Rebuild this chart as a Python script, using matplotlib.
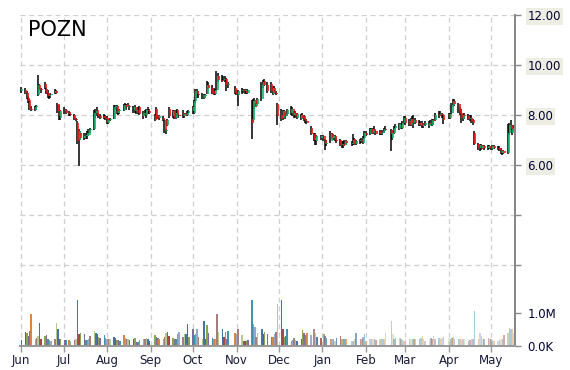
import matplotlib
matplotlib.use("Agg")
import matplotlib.pyplot as plt
import matplotlib.dates as mdates
import numpy as np
import pandas as pd

ticker = "POZN"
holidays = ["2012-07-04", "2012-09-03", "2012-10-29", "2012-10-30", "2012-11-22",
            "2012-12-25", "2013-01-01", "2013-01-21", "2013-02-18", "2013-03-29"]

# one line per trading week
opens = [
    8.95,
    9.0, 8.9, 8.7, 8.6, 8.25,
    8.2, 8.3, 8.8, 9.2, 9.05,
    9.25, 9.05, 8.9, 8.75, 8.8,
    8.9, 8.95, 8.45, 8.2, 7.9,
    8.15, 8.2, 8.1, 8.05,
    8.0, 7.85, 7.7, 7.0, 7.3,
    7.1, 7.15, 7.15, 7.2, 7.4,
    7.45, 8.1, 8.2, 8.0, 7.95,
    7.95, 7.9, 7.9, 7.7, 7.8,
    7.85, 8.3, 8.35, 8.1, 8.15,
    8.2, 8.4, 8.3, 8.4, 8.35,
    8.2, 8.3, 8.15, 8.2, 8.3,
    7.95, 8.1, 8.0, 8.2, 8.15,
    8.0, 8.25, 7.95, 7.9,
    7.9, 7.8, 7.35, 7.6, 8.25,
    7.95, 8.15, 7.9, 8.2, 8.0,
    8.1, 7.95, 8.05, 8.0, 8.1,
    8.15, 8.1, 8.55, 8.95, 8.85,
    8.8, 8.7, 8.75, 8.85, 9.2,
    9.1, 8.95, 8.85, 9.0, 9.55,
    9.4, 9.4, 9.45, 9.45, 9.2,
    9.1, 8.9, 8.8,
    8.95, 9.0, 8.95, 8.95, 8.9,
    7.85, 7.8, 8.6, 8.35, 8.45,
    8.65, 9.2, 9.35, 9.2,
    9.25, 8.85, 9.1, 8.9, 8.45,
    8.0, 7.9, 8.15, 7.95, 8.05,
    8.1, 8.25, 8.0, 8.1, 7.9,
    7.85, 8.0, 7.95, 7.8, 7.75,
    7.5, 7.25, 7.0, 6.95,
    7.1, 7.15, 7.0, 6.85,
    6.95, 7.25, 7.1, 7.15, 7.0,
    7.0, 6.8, 6.85, 6.8, 6.95,
    6.85, 6.9, 7.05, 6.85,
    6.95, 7.0, 6.9, 7.1, 7.3,
    7.25, 7.45, 7.3, 7.45, 7.35,
    7.35, 7.25, 7.3, 7.35, 7.45,
    7.4, 7.1, 7.3, 7.5,
    7.45, 7.6, 7.5, 7.7, 7.9,
    7.75, 7.6, 7.85, 7.7, 7.8,
    7.7, 7.6, 7.7, 7.55, 7.6,
    7.55, 7.7, 7.6, 7.8, 7.8,
    8.05, 8.0, 8.05, 8.0,
    8.05, 7.9, 8.1, 8.4, 8.55,
    8.45, 8.2, 8.1, 7.85, 8.0,
    7.95, 7.85, 7.9, 7.8, 7.3,
    6.85, 6.7, 6.8, 6.7, 6.75,
    6.7, 6.75, 6.7, 6.65, 6.75,
    6.7, 6.7, 6.6, 6.5, 6.55,
    6.5, 7.3, 7.6, 7.3, 7.45,
]
highs = [
    9.13,
    9.1, 8.95, 8.75, 8.65, 8.35,
    8.35, 8.4, 9.6, 9.25, 9.1,
    9.3, 9.1, 9.0, 8.85, 8.9,
    9.05, 9.0, 8.5, 8.4, 8.2,
    8.3, 8.25, 8.15, 8.1,
    8.05, 7.9, 7.75, 7.45, 7.35,
    7.3, 7.3, 7.35, 7.45, 7.5,
    8.2, 8.25, 8.3, 8.1, 8.05,
    8.05, 8.0, 7.95, 7.85, 7.9,
    8.4, 8.4, 8.4, 8.2, 8.25,
    8.45, 8.47, 8.45, 8.5, 8.4,
    8.35, 8.4, 8.25, 8.3, 8.35,
    8.15, 8.2, 8.25, 8.3, 8.25,
    8.05, 8.3, 8.0, 8.0,
    7.95, 7.85, 7.45, 7.85, 8.3,
    8.2, 8.2, 8.2, 8.25, 8.1,
    8.2, 8.1, 8.1, 8.15, 8.2,
    8.35, 8.6, 9.05, 9.05, 8.95,
    8.9, 8.85, 8.85, 9.35, 9.3,
    9.2, 9.1, 9.05, 9.75, 9.7,
    9.6, 9.55, 9.55, 9.5, 9.3,
    9.15, 9.0, 9.0,
    9.1, 9.05, 9.05, 9.0, 9.05,
    8.6, 8.65, 8.7, 8.5, 8.7,
    9.3, 9.4, 9.45, 9.3,
    9.3, 9.15, 9.15, 8.95, 8.5,
    8.25, 8.2, 8.2, 8.1, 8.25,
    8.35, 8.3, 8.15, 8.15, 8.1,
    8.05, 8.1, 8.0, 7.9, 7.85,
    7.55, 7.3, 7.3, 7.2,
    7.2, 7.2, 7.05, 7.0,
    7.35, 7.3, 7.25, 7.2, 7.1,
    7.05, 6.95, 6.95, 7.0, 7.0,
    6.95, 7.25, 7.1, 7.0,
    7.05, 7.1, 7.15, 7.35, 7.35,
    7.5, 7.5, 7.5, 7.55, 7.4,
    7.4, 7.35, 7.4, 7.5, 7.55,
    7.45, 7.4, 7.55, 7.65,
    7.7, 7.7, 7.75, 7.95, 7.95,
    7.85, 7.9, 7.95, 8.0, 7.9,
    7.8, 7.75, 7.75, 7.7, 7.75,
    7.75, 7.8, 7.85, 7.85, 8.1,
    8.15, 8.15, 8.1, 8.05,
    8.1, 8.1, 8.5, 8.65, 8.65,
    8.5, 8.3, 8.25, 8.05, 8.1,
    8.05, 8.0, 8.0, 7.85, 7.35,
    6.9, 6.85, 6.85, 6.8, 6.8,
    6.8, 6.8, 6.75, 6.8, 6.8,
    6.75, 6.75, 6.7, 6.6, 6.6,
    7.65, 7.7, 7.8, 7.5, 7.6,
]
lows = [
    8.9,
    8.85, 8.65, 8.5, 8.2, 8.15,
    8.15, 8.2, 8.75, 9.0, 8.9,
    9.05, 8.85, 8.7, 8.65, 8.7,
    8.85, 8.85, 8.1, 7.8, 7.8,
    8.05, 8.05, 7.95, 7.95,
    7.8, 7.75, 6.85, 5.95, 7.0,
    7.0, 7.05, 7.05, 7.15, 7.3,
    7.4, 7.9, 7.95, 7.9, 7.85,
    7.85, 7.8, 7.65, 7.65, 7.75,
    7.85, 8.2, 8.05, 8.0, 8.05,
    8.15, 8.25, 8.2, 8.3, 8.2,
    8.1, 8.1, 8.05, 8.05, 8.0,
    7.85, 7.95, 7.9, 8.05, 8.05,
    7.75, 7.9, 7.85, 7.8,
    7.75, 7.3, 7.25, 7.55, 7.9,
    7.9, 7.85, 7.85, 7.95, 7.9,
    7.9, 7.9, 7.95, 7.95, 8.0,
    8.05, 8.05, 8.5, 8.7, 8.7,
    8.65, 8.65, 8.7, 8.85, 9.05,
    8.85, 8.8, 8.8, 8.95, 9.3,
    9.3, 9.35, 9.3, 8.95, 9.1,
    8.85, 8.8, 8.35,
    8.85, 8.9, 8.85, 8.85, 8.85,
    7.05, 7.75, 8.25, 8.3, 8.4,
    8.55, 9.1, 9.15, 8.9,
    8.9, 8.8, 8.85, 8.8, 7.6,
    7.75, 7.8, 7.9, 7.85, 7.95,
    8.0, 7.95, 7.9, 7.9, 7.85,
    7.8, 7.85, 7.75, 7.7, 7.65,
    7.2, 6.95, 6.8, 6.8,
    7.0, 6.95, 6.6, 6.75,
    6.9, 7.05, 7.0, 6.95, 6.9,
    6.75, 6.7, 6.7, 6.75, 6.8,
    6.75, 6.8, 6.8, 6.8,
    6.85, 6.9, 6.85, 7.05, 7.15,
    7.2, 7.25, 7.25, 7.3, 7.2,
    7.2, 7.2, 7.2, 7.3, 7.35,
    6.55, 7.0, 7.25, 7.4,
    7.4, 7.45, 7.45, 7.65, 7.6,
    7.55, 7.55, 7.6, 7.5, 7.65,
    7.55, 7.55, 7.5, 7.5, 7.55,
    7.5, 7.6, 7.55, 7.6, 7.75,
    7.9, 7.95, 7.9, 7.65,
    7.85, 7.85, 8.05, 8.3, 8.35,
    8.1, 8.0, 7.7, 7.75, 7.85,
    7.8, 7.75, 7.7, 7.6, 6.8,
    6.6, 6.55, 6.6, 6.65, 6.6,
    6.6, 6.65, 6.6, 6.6, 6.65,
    6.6, 6.55, 6.45, 6.4, 6.45,
    6.45, 7.2, 7.4, 7.2, 7.35,
]
closes = [
    9.05,
    8.9, 8.7, 8.55, 8.25, 8.2,
    8.3, 8.35, 9.2, 9.05, 9.0,
    9.1, 8.9, 8.75, 8.8, 8.85,
    8.95, 8.9, 8.15, 7.95, 8.15,
    8.2, 8.1, 8.05, 8.0,
    7.85, 7.8, 6.95, 7.35, 7.1,
    7.15, 7.2, 7.3, 7.4, 7.45,
    8.1, 8.15, 8.0, 7.95, 7.9,
    7.9, 7.85, 7.7, 7.8, 7.85,
    8.3, 8.35, 8.1, 8.15, 8.2,
    8.4, 8.3, 8.4, 8.35, 8.3,
    8.3, 8.15, 8.2, 8.1, 8.05,
    8.1, 8.0, 8.2, 8.15, 8.1,
    7.8, 7.95, 7.9, 7.95,
    7.8, 7.35, 7.4, 7.8, 7.95,
    8.15, 7.9, 8.1, 8.0, 7.95,
    7.95, 8.05, 8.0, 8.1, 8.15,
    8.3, 8.55, 8.95, 8.85, 8.8,
    8.7, 8.8, 8.8, 9.2, 9.1,
    8.9, 8.85, 9.0, 9.55, 9.4,
    9.35, 9.45, 9.4, 9.2, 9.25,
    8.9, 8.85, 8.95,
    9.0, 8.95, 9.0, 8.9, 9.0,
    7.7, 8.55, 8.3, 8.45, 8.65,
    9.2, 9.3, 9.2, 8.95,
    8.95, 9.1, 8.9, 8.85, 7.95,
    7.85, 8.15, 7.95, 8.05, 8.2,
    8.25, 8.0, 8.1, 7.95, 8.05,
    8.0, 7.9, 7.8, 7.75, 7.7,
    7.25, 7.0, 7.1, 7.15,
    7.15, 7.0, 6.85, 6.9,
    7.25, 7.1, 7.15, 7.0, 6.95,
    6.8, 6.85, 6.75, 6.95, 6.9,
    6.9, 7.0, 6.85, 6.95,
    7.0, 6.95, 7.1, 7.3, 7.2,
    7.45, 7.3, 7.45, 7.35, 7.25,
    7.25, 7.3, 7.35, 7.45, 7.4,
    7.25, 7.3, 7.5, 7.55,
    7.65, 7.5, 7.7, 7.9, 7.7,
    7.6, 7.85, 7.7, 7.8, 7.7,
    7.6, 7.7, 7.55, 7.6, 7.7,
    7.7, 7.65, 7.8, 7.75, 8.0,
    7.95, 8.05, 8.0, 7.8,
    7.9, 8.05, 8.4, 8.55, 8.45,
    8.15, 8.05, 7.9, 8.0, 7.95,
    7.85, 7.9, 7.75, 7.7, 6.85,
    6.7, 6.8, 6.65, 6.75, 6.7,
    6.75, 6.7, 6.65, 6.75, 6.7,
    6.65, 6.6, 6.5, 6.55, 6.5,
    7.3, 7.6, 7.45, 7.45, 7.5,
]
# volume in millions of shares
volumes_m = [
    0.18,
    0.42, 0.40, 0.30, 0.46, 0.95,
    0.22, 0.25, 0.30, 0.68, 0.22,
    0.30, 0.32, 0.20, 0.18, 0.15,
    0.22, 0.70, 0.50, 0.22, 0.20,
    0.18, 0.18, 0.18, 0.15,
    0.18, 0.20, 1.37, 0.35, 0.38,
    0.35, 0.18, 0.18, 0.20, 0.30,
    0.44, 0.38, 0.35, 0.28, 0.25,
    0.32, 0.25, 0.22, 0.22, 0.20,
    0.28, 0.25, 0.18, 0.18, 0.15,
    0.32, 0.25, 0.20, 0.20, 0.18,
    0.20, 0.25, 0.12, 0.12, 0.18,
    0.20, 0.22, 0.25, 0.20, 0.15,
    0.32, 0.28, 0.25, 0.22,
    0.20, 0.28, 0.40, 0.42, 0.30,
    0.25, 0.22, 0.20, 0.35, 0.42,
    0.28, 0.35, 0.35, 0.65, 0.28,
    0.52, 0.32, 0.35, 0.50, 0.28,
    0.22, 0.74, 0.22, 0.62, 0.38,
    0.25, 0.20, 0.20, 0.95, 0.42,
    0.50, 0.28, 0.42, 0.20, 0.45,
    0.38, 0.35, 0.52,
    0.32, 0.15, 0.15, 0.15, 0.18,
    1.37, 0.65, 0.58, 0.28, 0.40,
    0.50, 0.35, 0.42, 0.35,
    0.28, 0.28, 0.35, 0.42, 1.25,
    1.37, 0.50, 0.28, 0.30, 0.50,
    0.15, 0.18, 0.25, 0.18, 0.15,
    0.20, 0.47, 0.40, 0.32, 0.40,
    0.32, 0.50, 0.40, 0.28,
    0.25, 0.35, 0.30, 0.25,
    0.20, 0.22, 0.22, 0.15, 0.25,
    0.30, 0.22, 0.22, 0.22, 0.20,
    0.15, 0.15, 0.20, 0.40,
    0.20, 0.20, 0.28, 0.35, 0.15,
    0.20, 0.22, 0.20, 0.20, 0.18,
    0.20, 0.22, 0.20, 0.20, 0.40,
    0.75, 0.35, 0.22, 0.25,
    0.25, 0.22, 0.18, 0.15, 0.22,
    0.22, 0.20, 0.22, 0.20, 0.22,
    0.22, 0.25, 0.30, 0.22, 0.15,
    0.20, 0.25, 0.22, 0.30, 0.22,
    0.25, 0.20, 0.25, 0.28,
    0.25, 0.20, 0.25, 0.28, 0.22,
    0.20, 0.22, 0.18, 0.20, 0.20,
    0.15, 0.18, 0.20, 0.20, 1.05,
    0.22, 0.38, 0.30, 0.20, 0.22,
    0.25, 0.20, 0.22, 0.18, 0.15,
    0.15, 0.18, 0.20, 0.22, 0.32,
    0.40, 0.55, 0.50, 0.50, 0.40,
]
vol_colors = ["#4572A7", "#AA4643", "#89A54E", "#80699B", "#3D96AE",
              "#DB843D", "#92A8CD", "#A47D7C", "#B5CA92"]

dates = pd.bdate_range("2012-06-01", "2013-05-17")
dates = dates[~dates.isin(pd.to_datetime(holidays))]
n = min(len(dates), len(opens), len(highs), len(lows), len(closes), len(volumes_m))
x = mdates.date2num(dates[:n].to_pydatetime())
o = np.array(opens[:n]); h = np.array(highs[:n])
l = np.array(lows[:n]); c = np.array(closes[:n])
v = np.array(volumes_m[:n])

W, H = 570, 370
fig = plt.figure(figsize=(W / 100, H / 100), dpi=100)
ax_l, ax_r, ax_t, ax_b = 20, 515, 15, 346
ax = fig.add_axes([ax_l / W, 1 - ax_b / H, (ax_r - ax_l) / W, (ax_b - ax_t) / H])

x0 = mdates.date2num(pd.Timestamp("2012-06-01"))
px_per_day = 1.407
ax.set_xlim(x0 - 1.3 / px_per_day, x0 + (ax_r - ax_l - 1.3) / px_per_day)
ax.set_ylim(12 - (ax_b - ax_t) / 25.0, 12)

# volume on a twin axis at the bottom (twinx resets the price ticks to the left)
ax2 = ax.twinx()
ax2.set_ylim(0, (ax_b - ax_t) / 33.5)
fade = np.clip(1 - (x - mdates.date2num(pd.Timestamp("2012-12-15"))) / 60.0 * 0.55, 0.45, 1.0)
for i in range(n):
    ax2.bar(x[i], v[i], width=1.1, color=vol_colors[i % len(vol_colors)],
            alpha=fade[i], linewidth=0)
ax2.set_yticks([0, 1])
ax2.set_yticklabels(["0.0K", "1.0M"])

grid_kw = dict(color="#CFCFCF", linestyle=(0, (4, 3)), linewidth=0.9)
ax.yaxis.tick_right()
ax.set_yticks([6, 8, 10, 12])
ax.set_yticklabels(["6.00", "8.00", "10.00", "12.00"])
ax.set_yticks([2, 4], minor=True)
ax.xaxis.set_major_locator(mdates.MonthLocator())
ax.xaxis.set_major_formatter(mdates.DateFormatter("%b"))
ax.grid(True, which="both", **grid_kw)
ax.set_axisbelow(True)

# candles: black high-low wick with the open-close body beside it
up = c >= o
ax.vlines(x - 0.3, l, h, color="black", linewidth=1.1, zorder=3)
lo_b = np.minimum(o, c); hi_b = np.maximum(o, c)
hi_b = np.maximum(hi_b, lo_b + 0.05)
ax.vlines(x + 0.5, lo_b, hi_b, colors=np.where(up, "#12B56A", "#F01414"),
          linewidth=1.2, zorder=3)

ax.text(8 / (ax_r - ax_l), 1 - 5 / (ax_b - ax_t), ticker, transform=ax.transAxes,
        fontsize=15, va="top", ha="left", color="black")

for a in (ax, ax2):
    for s in ("top", "left"):
        a.spines[s].set_visible(False)
    a.spines["right"].set_color("#888888")
    a.spines["right"].set_linewidth(1.3)
    a.spines["bottom"].set_color("#999999")
    a.spines["bottom"].set_linewidth(1.3)
    a.tick_params(axis="y", which="both", length=4, color="#888888", width=1,
                  labelsize=8.5, labelcolor="#000033", pad=5)

ax.tick_params(axis="x", length=4, color="#999999", width=1, labelsize=8.5,
               labelcolor="#1A1A3A", pad=2)
for lbl in ax.get_yticklabels():
    lbl.set_bbox(dict(facecolor="#EEEDE3", edgecolor="none", pad=1.2))

fig.savefig("out.png", dpi=100)
